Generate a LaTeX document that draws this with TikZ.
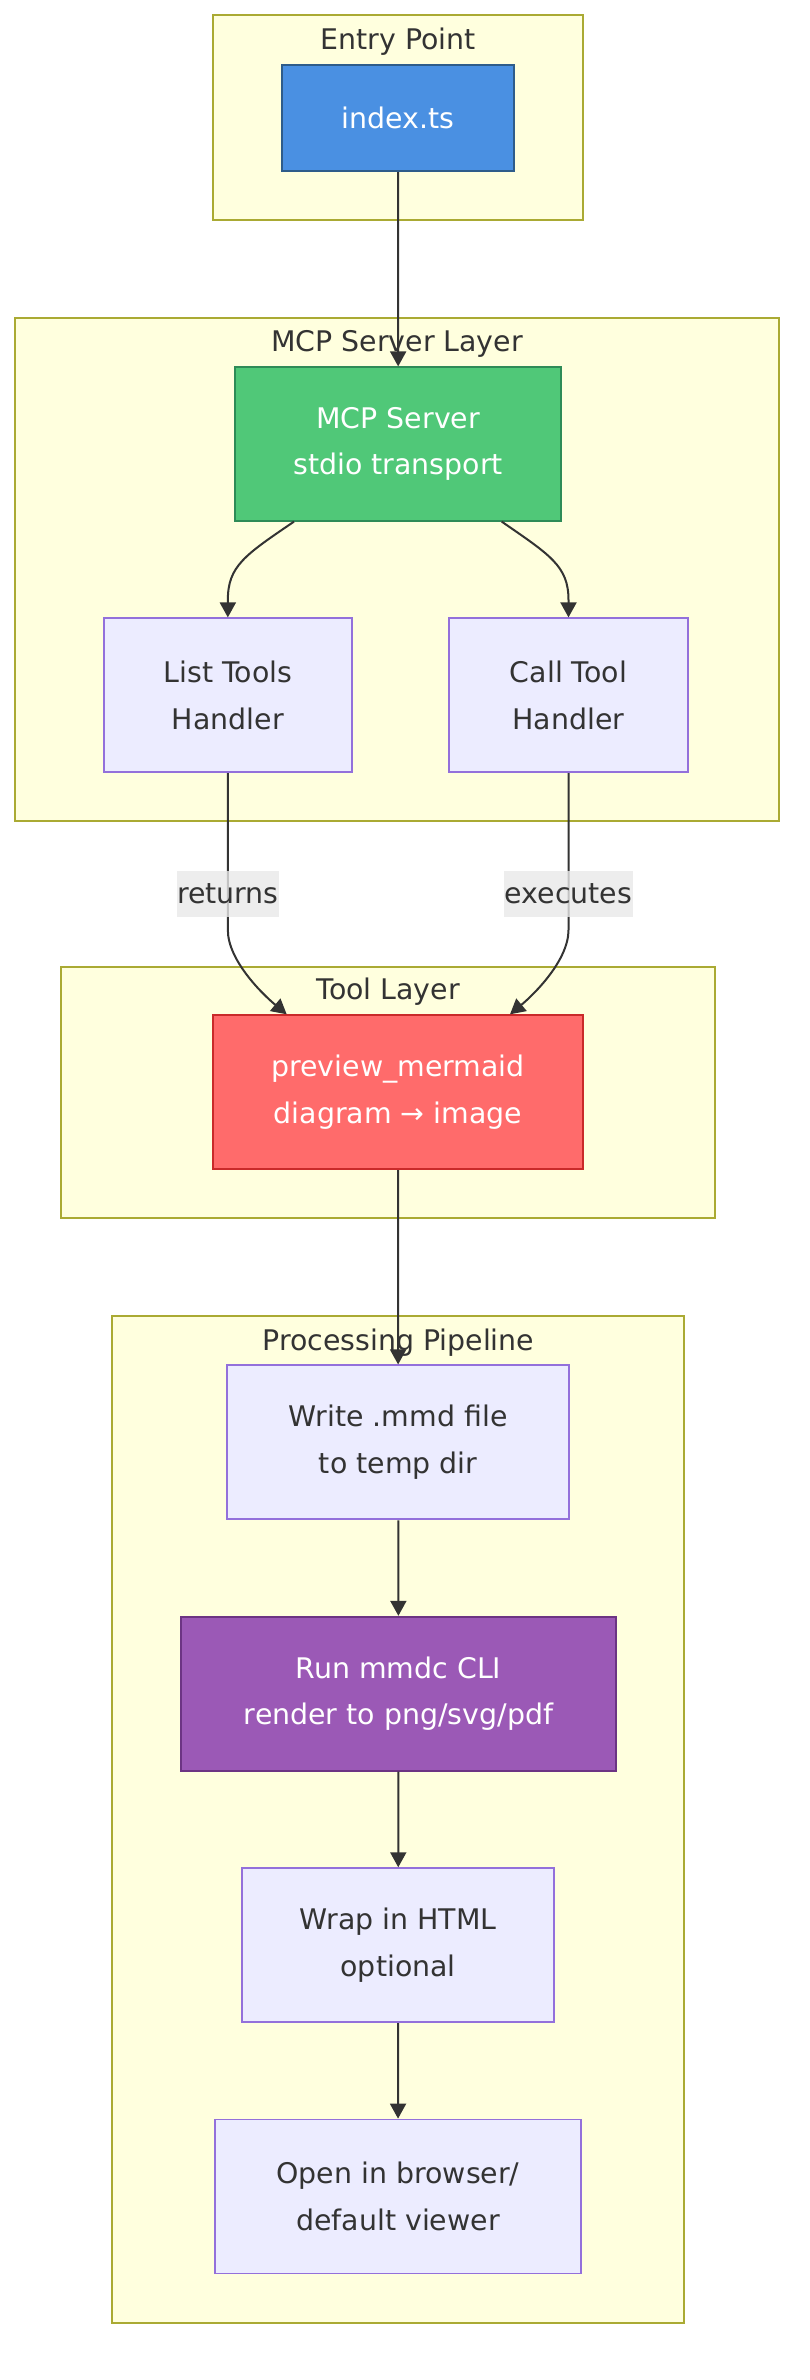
\documentclass[tikz,border=0pt]{standalone}
\usepackage{fontspec}
\setmainfont{DejaVu Sans}
\usepackage{xcolor}
\usepackage{tikz}
\usetikzlibrary{arrows.meta, calc, positioning}

\definecolor{clusterfill}{HTML}{FFFFDE}
\definecolor{clusterline}{HTML}{AAAA33}
\definecolor{boxfill}{HTML}{ECECFF}
\definecolor{boxline}{HTML}{9370DB}
\definecolor{textdark}{HTML}{333333}
\definecolor{labelfill}{HTML}{E8E8E8}
\definecolor{bluefill}{HTML}{4A90E2}
\definecolor{blueline}{HTML}{2E5C8A}
\definecolor{greenfill}{HTML}{50C878}
\definecolor{greenline}{HTML}{2E8B57}
\definecolor{redfill}{HTML}{FF6B6B}
\definecolor{redline}{HTML}{C92A2A}
\definecolor{purplefill}{HTML}{9B59B6}
\definecolor{purpleline}{HTML}{6C3483}

\begin{document}
\begin{tikzpicture}[
    x=1pt, y=-1pt,
    >={Triangle[length=15pt, width=16pt]},
    every node/.style={font=\fontsize{28.4}{46.7}\selectfont},
    cluster/.style={rectangle, draw=clusterline, fill=clusterfill, line width=1.8pt, inner sep=0pt},
    clustertitle/.style={anchor=base, text=textdark},
    plainbox/.style={rectangle, draw=boxline, fill=boxfill, line width=1.8pt, text=textdark, align=center, inner sep=0pt, minimum height=154pt},
    colorbox/.style={plainbox, text=white},
    arrow/.style={->, line width=2pt, draw=textdark},
    elabel/.style={fill=labelfill, fill opacity=0.8, text opacity=1, text=textdark, inner xsep=0.5pt, inner ysep=0pt, minimum height=46pt}
]
\useasboundingbox (0,0) rectangle (810,2380);

% 分组框
\node[cluster, minimum width=369.4pt, minimum height=204.7pt] (entry) at (398,117.65) {};
\node[cluster, minimum width=763.4pt, minimum height=503.3pt] (serverlayer) at (397,569.65) {};
\node[cluster, minimum width=654.3pt, minimum height=251.6pt] (toollayer) at (388.15,1092.5) {};
\node[cluster, minimum width=572pt, minimum height=1006.7pt] (pipeline) at (398.3,1819.35) {};

% 分组标题
\node[clustertitle] (entrytitle) at (398,49.3) {Entry Point};
\node[clustertitle] (servertitle) at (397,351.7) {MCP Server Layer};
\node[clustertitle] (tooltitle) at (388.15,999.3) {Tool Layer};
\node[clustertitle] (pipetitle) at (398.3,1350) {Processing Pipeline};

% 节点
\node[colorbox, draw=blueline, fill=bluefill, minimum width=232pt, minimum height=106.6pt] (index) at (398,118) {index.ts};
\node[colorbox, draw=greenline, fill=greenfill, minimum width=326.3pt, minimum height=153.4pt] (server) at (398.2,444) {MCP Server\\stdio transport};
\node[plainbox, minimum width=247.7pt] (listtools) at (227.85,695.3) {List Tools\\Handler};
\node[plainbox, minimum width=238.4pt] (calltool) at (568.5,695.3) {Call Tool\\Handler};
\node[colorbox, draw=redline, fill=redfill, minimum width=370.6pt] (preview) at (398,1092.2) {preview\_mermaid\\diagram → image};
\node[plainbox, minimum width=341.7pt] (writefile) at (398.15,1442.35) {Write .mmd file\\to temp dir};
\node[colorbox, draw=purpleline, fill=purplefill, minimum width=435pt] (runcli) at (398.5,1693.7) {Run mmdc CLI\\render to png/svg/pdf};
\node[plainbox, minimum width=312.3pt] (wraphtml) at (398.15,1945.15) {Wrap in HTML\\optional};
\node[plainbox, minimum width=365.4pt] (openview) at (398,2196.5) {Open in browser/\\default viewer};

% 连接线
\draw[arrow] (index) -- (server);
\draw[arrow] ($(server.south)+(-104.2,0)$) .. controls (245,555) and (227.85,566) .. (227.85,600) -- (listtools.north);
\draw[arrow] ($(server.south)+(103.5,0)$) .. controls (550,555) and (568.5,566) .. (568.5,600) -- (calltool.north);

\draw[arrow] (listtools.south) -- node[elabel, pos=0.77] (returnslbl) {returns} (227.85,930)
    .. controls (227.85,960) and (261.7,993.5) .. ($(preview.north)+(-111.3,0)$);
\draw[arrow] (calltool.south) -- node[elabel, pos=0.77] (executeslbl) {executes} (568.5,930)
    .. controls (568.5,960) and (535,993.5) .. ($(preview.north)+(112,0)$);

\draw[arrow] (preview) -- (writefile);
\draw[arrow] (writefile) -- (runcli);
\draw[arrow] (runcli) -- (wraphtml);
\draw[arrow] (wraphtml) -- (openview);

\end{tikzpicture}
\end{document}
